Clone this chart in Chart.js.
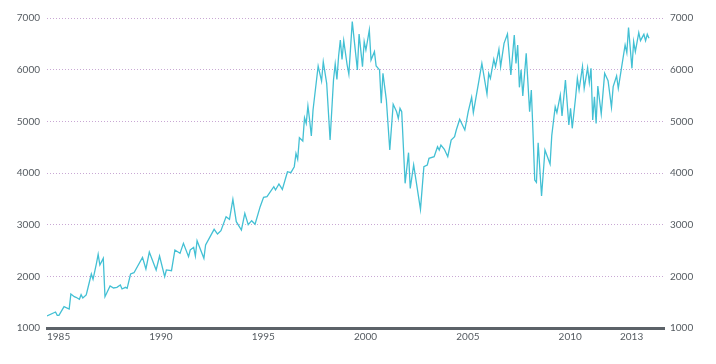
<!DOCTYPE html>
<html>
<head>
<meta charset="utf-8">
<script src="https://cdn.jsdelivr.net/npm/chart.js@4/dist/chart.umd.min.js"></script>
<style>
  html, body { margin: 0; padding: 0; background: #ffffff; }
  #wrap { width: 716px; height: 364px; }
</style>
</head>
<body>
<div id="wrap"><canvas id="c" width="716" height="364"></canvas></div>
<script>
// Month of each read point (YYYY-MM) and index level
const dates = [
  "1985-01","1985-06","1985-07","1985-08","1985-11","1986-02","1986-03","1986-05","1986-06","1986-08",
  "1986-09","1986-10","1986-12","1987-01","1987-03","1987-04","1987-06","1987-07","1987-08","1987-10",
  "1987-11","1988-02","1988-04","1988-06","1988-08","1988-09","1988-11","1988-12","1989-02","1989-04",
  "1989-09","1989-11","1990-01","1990-05","1990-07","1990-10","1990-11","1991-02","1991-04","1991-07",
  "1991-09","1991-12","1992-01","1992-03","1992-04","1992-05","1992-09","1992-10","1993-03","1993-05",
  "1993-07","1993-10","1993-12","1994-02","1994-04","1994-07","1994-09","1994-11","1995-01","1995-03",
  "1995-06","1995-08","1995-10","1996-02","1996-03","1996-05","1996-07","1996-10","1996-12","1997-02",
  "1997-03","1997-04","1997-05","1997-07","1997-08","1997-09","1997-10","1997-11","1997-12","1998-01",
  "1998-04","1998-06","1998-07","1998-09","1998-11","1999-01","1999-02","1999-03","1999-04","1999-05",
  "1999-06","1999-07","1999-09","1999-10","1999-12","2000-03","2000-04","2000-06","2000-07","2000-08",
  "2000-10","2000-11","2001-01","2001-02","2001-04","2001-05","2001-06","2001-08","2001-10","2001-12",
  "2002-02","2002-03","2002-04","2002-05","2002-07","2002-09","2002-10","2002-12","2003-04","2003-06",
  "2003-08","2003-09","2003-12","2004-02","2004-03","2004-04","2004-06","2004-08","2004-10","2004-12",
  "2005-01","2005-03","2005-06","2005-08","2005-10","2005-11","2006-02","2006-04","2006-07","2006-08",
  "2006-09","2006-11","2006-12","2007-02","2007-03","2007-05","2007-07","2007-09","2007-11","2007-12",
  "2008-01","2008-02","2008-03","2008-04","2008-06","2008-08","2008-09","2008-10","2008-11","2008-12",
  "2009-01","2009-03","2009-05","2009-08","2009-09","2009-11","2009-12","2010-02","2010-03","2010-05",
  "2010-07","2010-08","2010-09","2010-11","2010-12","2011-01","2011-03","2011-04","2011-06","2011-07",
  "2011-08","2011-09","2011-10","2011-11","2011-12","2012-02","2012-04","2012-06","2012-08","2012-09",
  "2012-11","2012-12","2013-02","2013-04","2013-05","2013-06","2013-08","2013-09","2013-10","2013-12",
  "2014-01","2014-03","2014-04","2014-05","2014-06"
];
const values = [
  1232,1310,1245,1245,1413,1368,1658,1606,1594,1555,
  1645,1580,1640,1774,2045,1942,2252,2426,2219,2348,
  1606,1813,1774,1787,1832,1755,1787,1768,2045,2070,
  2368,2142,2470,2123,2393,1993,2123,2110,2510,2445,
  2639,2380,2510,2561,2393,2690,2348,2606,2910,2819,
  2883,3154,3103,3490,3058,2897,3219,3000,3077,3007,
  3348,3529,3542,3735,3671,3787,3684,4025,4006,4122,
  4380,4264,4683,4619,5070,4961,5296,5025,4716,5219,
  6071,5780,6154,5736,4638,5800,6109,5813,6264,6574,
  6200,6561,6090,5910,6930,5995,6690,6058,6542,6380,
  6767,6187,6348,6071,5995,5349,5929,5412,4445,5329,
  5186,5058,5251,5186,3800,4393,3703,4155,3297,4122,
  4155,4284,4316,4509,4445,4542,4458,4316,4638,4703,
  4832,5039,4832,5186,5464,5167,5735,6122,5529,5929,
  5832,6200,6058,6394,6058,6510,6690,5896,6671,6122,
  6477,5658,5995,5490,6316,5186,5606,4768,3864,3820,
  4587,3555,4445,4174,4729,5283,5167,5510,5103,5800,
  4929,5251,4865,5475,5832,5606,6058,5638,6038,5748,
  6026,5025,5475,4961,5684,5142,5929,5787,5270,5671,
  5877,5638,6058,6477,6328,6817,6026,6542,6348,6716,
  6561,6684,6561,6684,6607
];
const yearTicks = [1985, 1990, 1995, 2000, 2005, 2010, 2013];
const valueTicks = [1000, 2000, 3000, 4000, 5000, 6000, 7000];

const points = dates.map((d, i) => {
  const [y, m] = d.split("-").map(Number);
  return { x: y + (m - 1) / 12, y: values[i] };
});

const FONT = { family: "Lato, 'Open Sans', sans-serif", size: 10 };
const TEXT = "#555b61";

new Chart(document.getElementById("c"), {
  type: "line",
  data: {
    datasets: [{
      data: points,
      borderColor: "#43c0d4",
      borderWidth: 1.3,
      pointRadius: 0,
      tension: 0,
      fill: false
    }]
  },
  options: {
    responsive: false,
    animation: false,
    devicePixelRatio: 1,
    layout: { padding: { top: 18, left: 0, right: 0, bottom: 0 } },
    plugins: { legend: { display: false }, tooltip: { enabled: false } },
    scales: {
      x: {
        type: "linear",
        position: "bottom",
        min: 1985,
        max: 2015.15,
        afterBuildTicks: s => { s.ticks = yearTicks.map(v => ({ value: v })); },
        afterFit: s => { s.height = 36; },
        ticks: {
          align: "start",
          autoSkip: false,
          maxRotation: 0,
          padding: 3,
          font: FONT,
          color: TEXT,
          callback: v => String(v)
        },
        grid: { display: false, drawTicks: false },
        border: { display: true, color: "#5c6268", width: 3 }
      },
      y: {
        position: "left",
        min: 1000,
        max: 7000,
        afterBuildTicks: s => { s.ticks = valueTicks.map(v => ({ value: v })); },
        afterFit: s => { s.width = 47; },
        ticks: { padding: 7, font: FONT, color: TEXT, callback: v => String(v) },
        grid: { color: "#c9a8d4", lineWidth: 1, drawTicks: false },
        border: { display: false, dash: [1, 2] }
      },
      y2: {
        position: "right",
        min: 1000,
        max: 7000,
        afterBuildTicks: s => { s.ticks = valueTicks.map(v => ({ value: v })); },
        afterFit: s => { s.width = 52; },
        ticks: { padding: 6, font: FONT, color: TEXT, callback: v => String(v) },
        grid: { display: false, drawTicks: false },
        border: { display: false }
      }
    }
  }
});
</script>
</body>
</html>
